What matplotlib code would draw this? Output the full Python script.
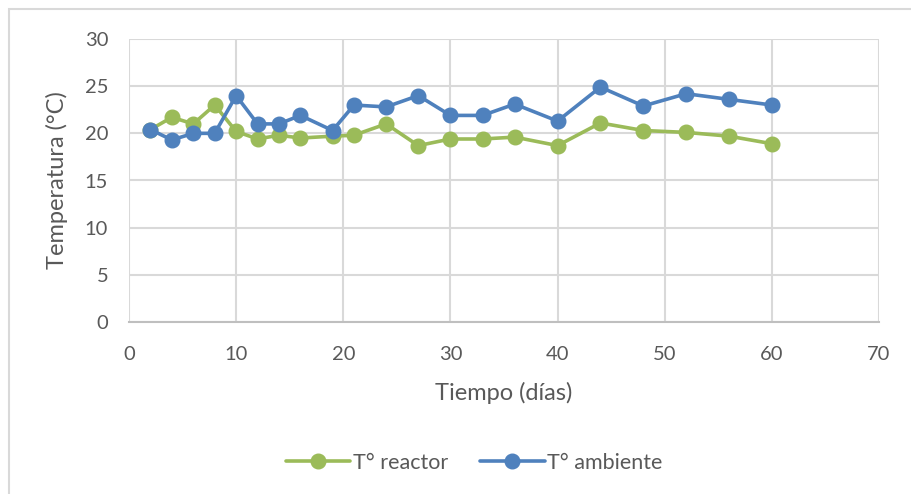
import matplotlib
matplotlib.use("Agg")
import matplotlib.pyplot as plt
from matplotlib.patches import Rectangle

# Days of measurement
dias = [2, 4, 6, 8, 10, 12, 14, 16, 19, 21, 24, 27, 30, 33, 36, 40, 44, 48, 52, 56, 60]
# Temperatures (°C)
t_reactor = [20.4, 21.7, 21.0, 23.0, 20.2, 19.4, 19.8, 19.5, 19.7, 19.8, 21.0, 18.7,
             19.4, 19.4, 19.6, 18.7, 21.1, 20.3, 20.1, 19.7, 18.9]
t_ambiente = [20.4, 19.3, 20.0, 20.0, 24.0, 21.0, 21.0, 21.9, 20.3, 23.0, 22.8, 24.0,
              21.9, 21.9, 23.1, 21.3, 24.9, 22.9, 24.2, 23.6, 23.0]

x_ticks = [0, 10, 20, 30, 40, 50, 60, 70]
y_ticks = [0, 5, 10, 15, 20, 25, 30]

plt.rcParams['font.family'] = ['Lato', 'DejaVu Sans']
text_color = '#595959'
grid_color = '#D9D9D9'
green = '#9BBB59'
blue = '#4F81BD'

W, H = 911, 494
fig = plt.figure(figsize=(W / 100, H / 100), dpi=100)

# Chart area frame
fig.patches.append(Rectangle((8.5 / W, -0.1), 1.2, 1.1 - 9.5 / H,
                             transform=fig.transFigure, fill=False,
                             edgecolor=grid_color, linewidth=1.5))

left, right, top, bottom = 129, 879, 39, 322
ax = fig.add_axes([left / W, 1 - bottom / H, (right - left) / W, (bottom - top) / H])

ax.plot(dias, t_reactor, color=green, linewidth=2.6, marker='o', markersize=10.5,
        label='T° reactor', zorder=3, solid_capstyle='round')
ax.plot(dias, t_ambiente, color=blue, linewidth=2.6, marker='o', markersize=10.5,
        label='T° ambiente', zorder=4, solid_capstyle='round')

ax.set_xlim(0, 70)
ax.set_ylim(0, 30)
ax.set_xticks(x_ticks)
ax.set_yticks(y_ticks)
ax.grid(True, color=grid_color, linewidth=1.5)
ax.set_axisbelow(True)

for side in ['top', 'right', 'left']:
    ax.spines[side].set_visible(False)
ax.spines['bottom'].set_color('#BFBFBF')
ax.spines['bottom'].set_linewidth(1.5)

ax.tick_params(axis='both', length=0, labelsize=14.5, labelcolor=text_color)
ax.tick_params(axis='y', pad=15)
ax.tick_params(axis='x', pad=17)

ax.set_xlabel('Tiempo (días)', fontsize=17, color=text_color, labelpad=14)
ax.set_ylabel('Temperatura (°C)', fontsize=17, color=text_color, labelpad=12)

leg = fig.legend(*ax.get_legend_handles_labels(), loc='center',
                 bbox_to_anchor=(474 / W, 1 - 463 / H),
                 ncol=2, frameon=False, fontsize=15.5, handlelength=3.0,
                 handletextpad=0.1, columnspacing=1.5, labelcolor=text_color)

fig.savefig('out.png', dpi=100, facecolor='white')
